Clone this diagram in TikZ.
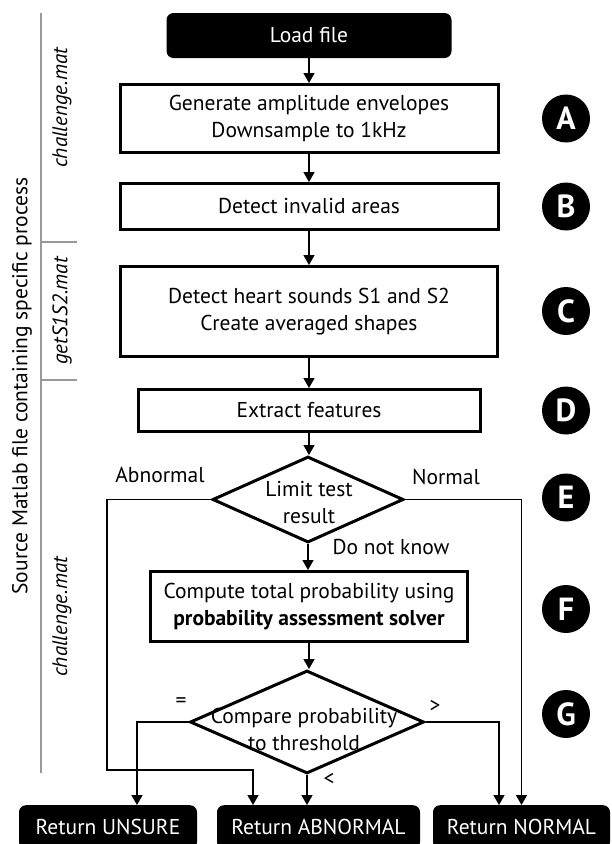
\documentclass[tikz,border=0pt]{standalone}
\usepackage{fontspec}
\setmainfont{PT Sans}
\usetikzlibrary{shapes.geometric,arrows.meta}
\begin{document}
\begin{tikzpicture}[x=1pt,y=-1pt,
  font=\fontsize{21.5}{27}\selectfont,
  box/.style={draw=black, line width=3pt, rectangle, inner sep=0pt, align=center, fill=white},
  term/.style={fill=black, text=white, rounded corners=7pt, inner sep=0pt, align=center},
  dia/.style={draw=black, line width=3pt, diamond, inner sep=0pt},
  badge/.style={circle, fill=black, text=white, minimum size=48pt, inner sep=0pt, font=\fontsize{32}{32}\selectfont\bfseries},
  arr/.style={line width=1.5pt, -{Triangle[width=11pt,length=10pt]}},
  sideline/.style={draw=black!40, line width=1.5pt},
  filelbl/.style={rotate=90, font=\fontsize{21}{24}\selectfont\itshape}
]
\useasboundingbox (0,0) rectangle (611,844);

% main column
\node[term, minimum width=285pt, minimum height=45pt] (load) at (309,35.5) {Load file};
\node[box, minimum width=378pt, minimum height=68pt] (A) at (309,118.5) {Generate amplitude envelopes\\Downsample to 1kHz};
\node[box, minimum width=378pt, minimum height=46pt] (B) at (309,206.5) {Detect invalid areas};
\node[box, minimum width=377pt, minimum height=90pt] (C) at (309,311.5) {Detect heart sounds S1 and S2\\Create averaged shapes};
\node[box, minimum width=342pt, minimum height=42pt] (D) at (309,410.5) {Extract features};
\node[dia, minimum width=191pt, minimum height=86pt] (E) at (308,499.5) {};
\node[align=center] (Et) at (309,503) {Limit test\\result};
\node[box, minimum width=317pt, minimum height=70pt] (F) at (309,606.5) {Compute total probability using\\\textbf{probability assessment solver}};
\node[dia, minimum width=234pt, minimum height=103pt] (G) at (307,722) {};
\node[align=center] (Gt) at (304,729) {Compare probability\\to threshold};

% terminals
\node[term, minimum width=178pt, minimum height=44pt, anchor=north] (uns) at (108,805) {Return UNSURE};
\node[term, minimum width=203pt, minimum height=44pt, anchor=north] (abn) at (318.5,805) {Return ABNORMAL};
\node[term, minimum width=177pt, minimum height=44pt, anchor=north] (nor) at (521.5,805) {Return NORMAL};

% connectors
\draw[arr] (load.south) -- (A.north);
\draw[arr] (A.south) -- (B.north);
\draw[arr] (B.south) -- (C.north);
\draw[arr] (C.south) -- (D.north);
\draw[arr] (D.south) -- (D.south |- E.north);
\draw[arr] (E.south) -- (E.south |- F.north);
\draw[arr] (F.south) -- (F.south |- G.north);
\draw[arr] (G.south) -- (G.south |- abn.north);
\draw[arr] (E.west) -| (107,770) -| ([xshift=-65.5pt]abn.north);
\draw[arr] (E.east) -| (nor.north);
\draw[arr] (G.west) -| ([xshift=29pt]uns.north);
\draw[arr] (G.east) -| ([xshift=-22.5pt]nor.north);

% branch labels
\node (lAb) at (160,475) {Abnormal};
\node (lNo) at (446,477) {Normal};
\node (lDk) at (391,547) {Do not know};
\node (lEq) at (181,703) {=};
\node (lGt) at (435,706) {>};
\node (lLt) at (329,779) {<};

% step badges
\node[badge] (bA) at (566,118.5) {A};
\node[badge] (bB) at (566,206.5) {B};
\node[badge] (bC) at (566,311) {C};
\node[badge] (bD) at (566,410.5) {D};
\node[badge] (bE) at (566,497.5) {E};
\node[badge] (bF) at (566,609) {F};
\node[badge] (bG) at (566,714) {G};

% side annotation
\draw[sideline] (41,13) -- (41,773);
\draw[sideline] (41,242) -- (77,242);
\draw[sideline] (41,380) -- (77,380);
\node[rotate=90] (src) at (22,386) {Source Matlab file containing specific process};
\node[filelbl] (f1) at (62,108) {challenge.mat};
\node[filelbl] (f2) at (62,311) {getS1S2.mat};
\node[filelbl] (f3) at (62,617) {challenge.mat};
\end{tikzpicture}
\end{document}
